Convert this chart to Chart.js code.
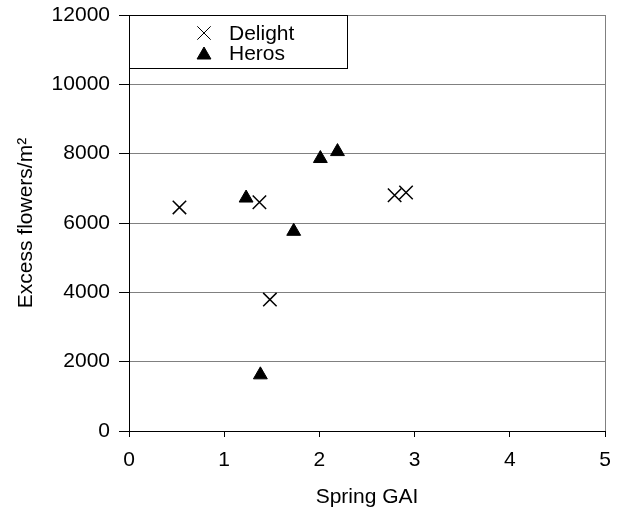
<!DOCTYPE html>
<html>
<head>
<meta charset="utf-8">
<script src="https://cdn.jsdelivr.net/npm/chart.js@4"></script>
<style>
  body { margin: 0; background: #fff; }
  #wrap { width: 628px; height: 513px; }
</style>
</head>
<body>
<div id="wrap"><canvas id="chart" width="628" height="513"></canvas></div>
<script>
const delightGAI = [0.53, 1.37, 1.48, 2.79, 2.91];
const delightFlowers = [6450, 6600, 3790, 6800, 6880];
const herosGAI = [1.23, 1.38, 1.73, 2.01, 2.19];
const herosFlowers = [6720, 1620, 5760, 7860, 8060];
const xTicks = [0, 1, 2, 3, 4, 5];
const yTicks = [0, 2000, 4000, 6000, 8000, 10000, 12000];

const font = "'Liberation Sans', Arial, sans-serif";

function toPoints(xs, ys) {
  return xs.map((x, i) => ({ x: x, y: ys[i] }));
}

// legend box drawn inside the plot, top-left
const boxLegend = {
  id: "boxLegend",
  afterDraw(chart) {
    const ctx = chart.ctx;
    const area = chart.chartArea;
    ctx.save();
    // right frame line
    ctx.strokeStyle = "#808080";
    ctx.lineWidth = 1;
    ctx.beginPath();
    ctx.moveTo(area.right + 0.5, area.top);
    ctx.lineTo(area.right + 0.5, area.bottom);
    ctx.stroke();

    ctx.fillStyle = "#fff";
    ctx.fillRect(area.left + 1, area.top + 1, 217, 52);
    ctx.strokeStyle = "#000";
    ctx.strokeRect(area.left + 0.5, area.top + 0.5, 218, 53);

    ctx.font = "21px " + font;
    ctx.textBaseline = "middle";
    ctx.textAlign = "left";
    chart.data.datasets.forEach((ds, i) => {
      const y = area.top + 18 + i * 20;
      const py = ds.pointStyle === "triangle" ? y + 2 : y;
      Chart.helpers.drawPoint(ctx, {
        pointStyle: ds.pointStyle,
        radius: ds.pointRadius,
        borderWidth: ds.borderWidth
      }, area.left + 75, py);
      ctx.fillStyle = "#000";
      ctx.fillText(ds.label, area.left + 100, y + 1);
    });
    ctx.restore();
  }
};

new Chart(document.getElementById("chart").getContext("2d"), {
  type: "scatter",
  data: {
    datasets: [
      {
        label: "Delight",
        data: toPoints(delightGAI, delightFlowers),
        pointStyle: "crossRot",
        pointRadius: 9.5,
        borderWidth: 1.5,
        borderColor: "#000",
        backgroundColor: "#000"
      },
      {
        label: "Heros",
        data: toPoints(herosGAI, herosFlowers),
        pointStyle: "triangle",
        pointRadius: 8,
        borderWidth: 1,
        borderColor: "#000",
        backgroundColor: "#000"
      }
    ]
  },
  options: {
    responsive: false,
    animation: false,
    layout: { padding: { top: 15, right: 23, left: 0, bottom: 0 } },
    plugins: {
      legend: { display: false },
      tooltip: { enabled: false }
    },
    scales: {
      x: {
        type: "linear",
        min: 0,
        max: 5,
        afterBuildTicks: s => { s.ticks = xTicks.map(v => ({ value: v })); },
        afterFit: s => { s.height = 82; s.paddingLeft = 0; s.paddingRight = 0; },
        border: { color: "#000", width: 1 },
        grid: { drawOnChartArea: false, color: "#000", tickLength: 6 },
        ticks: { color: "#000", font: { family: font, size: 21 }, padding: 11, maxRotation: 0, callback: v => String(v) },
        title: { display: true, text: "Spring GAI", color: "#000", font: { family: font, size: 21 }, padding: { top: 4, bottom: 3 } }
      },
      y: {
        min: 0,
        max: 12000,
        afterBuildTicks: s => { s.ticks = yTicks.map(v => ({ value: v })); },
        afterFit: s => { s.width = 129; s.paddingTop = 0; s.paddingBottom = 0; },
        border: { color: "#000", width: 1 },
        grid: { color: "#808080", tickColor: "#000", tickLength: 10 },
        ticks: { color: "#000", font: { family: font, size: 21 }, padding: 9, callback: v => String(v) },
        title: { display: true, text: "Excess flowers/m²", color: "#000", font: { family: font, size: 21 }, padding: { top: 14, bottom: 0 } }
      }
    }
  },
  plugins: [boxLegend]
});
</script>
</body>
</html>
